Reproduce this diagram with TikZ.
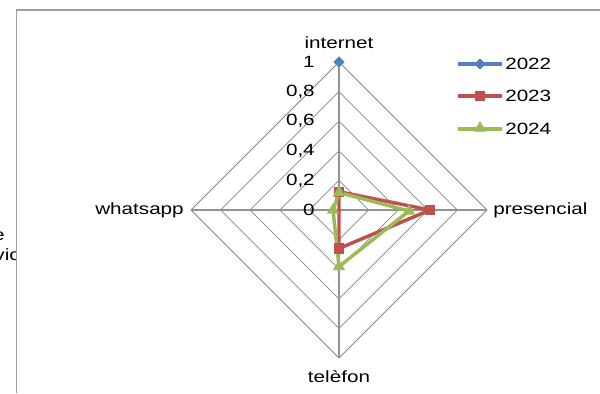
\documentclass[tikz,border=0pt]{standalone}
\usepackage{fontspec}
\setmainfont[FakeStretch=1.27]{Liberation Sans}
\usetikzlibrary{shapes.geometric}
\definecolor{gridgray}{HTML}{868686}
\definecolor{s22}{HTML}{4F81BD}
\definecolor{s23}{HTML}{C0504D}
\definecolor{s24}{HTML}{9BBB59}
\tikzset{
  lbl/.style={font=\fontsize{12.2}{14}\selectfont, inner sep=0pt},
  ring/.style={draw=gridgray, line width=0.55pt},
  spoke/.style={draw=gridgray!90, line width=1pt},
  ser/.style={line width=2.6pt, line join=round},
  mk22/.style={diamond, fill=s22, inner sep=0pt, minimum size=8.5pt},
  mk23/.style={rectangle, fill=s23, inner sep=0pt, minimum size=7.8pt},
  mk24/.style={regular polygon, regular polygon sides=3, fill=s24, inner sep=0pt, minimum size=10.5pt},
  frame/.style={draw=gridgray!80, line width=1.1pt}
}
\begin{document}
\begin{tikzpicture}[x=0.75pt,y=-0.75pt]
\useasboundingbox (0,0) rectangle (600,393);
% texts of a neighbouring chart, cut by the frame as in the reference
\begin{scope}
  \clip (0,0) rectangle (16.5,393);
  \node[lbl, anchor=base east] (le) at (5,240) {e};
  \node[lbl, anchor=base east] (lvic) at (20,260) {vic};
\end{scope}
% frame
\draw[frame] (16.5,393) -- (16.5,10) -- (600,10);
% radar grid
\coordinate (C) at (339,210);
\foreach \k in {1,...,5}{
  \pgfmathsetmacro{\r}{29.6*\k}
  \draw[ring] (339,210-\r) -- (339+\r,210) -- (339,210+\r) -- (339-\r,210) -- cycle;
}
\coordinate (T) at (339,62);
\coordinate (Rt) at (487,210);
\coordinate (B) at (339,358);
\coordinate (L) at (191,210);
\draw[spoke] (T) -- (B);
\draw[spoke] (L) -- (Rt);
% tick labels
\node[lbl, anchor=east] (t0) at (315,210) {0};
\node[lbl, anchor=east] (t2) at (315,180.4) {0,2};
\node[lbl, anchor=east] (t4) at (315,150.8) {0,4};
\node[lbl, anchor=east] (t6) at (315,121.2) {0,6};
\node[lbl, anchor=east] (t8) at (315,91.6) {0,8};
\node[lbl, anchor=east] (t10) at (315,62) {1};
% category labels
\node[lbl, anchor=base] (cint) at (339,48) {internet};
\node[lbl, anchor=west] (cpre) at (493,210) {presencial};
\node[lbl, anchor=east] (cwha) at (184,210) {whatsapp};
\node[lbl, anchor=base] (ctel) at (339,382) {telèfon};
% series 2023
\coordinate (a1) at (339,191.7);
\coordinate (a2) at (430,210);
\coordinate (a3) at (339,248.5);
\coordinate (a4) at (339,210);
\draw[ser, s23] (a1) -- (a2) -- (a3) -- (a4) -- cycle;
% series 2024
\coordinate (b1) at (339,192.5);
\coordinate (b2) at (409,211);
\coordinate (b3) at (339,266.5);
\coordinate (b4) at (333,210);
\draw[ser, s24] (b1) -- (b2) -- (b3) -- (b4) -- cycle;
% markers
\foreach \p in {a1,a2,a3}{ \node[mk23] at (\p) {}; }
\foreach \p in {b1,b2,b3,b4}{ \node[mk24] at (\p) {}; }
\node[mk22] (d1) at (T) {};
% legend
\coordinate (l1a) at (458,64); \coordinate (l1b) at (502,64);
\coordinate (l2a) at (458,96); \coordinate (l2b) at (502,96);
\coordinate (l3a) at (458,129); \coordinate (l3b) at (502,129);
\draw[ser, s22] (l1a) -- (l1b);
\draw[ser, s23] (l2a) -- (l2b);
\draw[ser, s24] (l3a) -- (l3b);
\node[mk22] (m1) at (480,64) {};
\node[mk23] (m2) at (480,96) {};
\node[mk24] (m3) at (480,128) {};
\node[lbl, anchor=west] (g1) at (505,64) {2022};
\node[lbl, anchor=west] (g2) at (505,96) {2023};
\node[lbl, anchor=west] (g3) at (505,129) {2024};
\end{tikzpicture}
\end{document}
